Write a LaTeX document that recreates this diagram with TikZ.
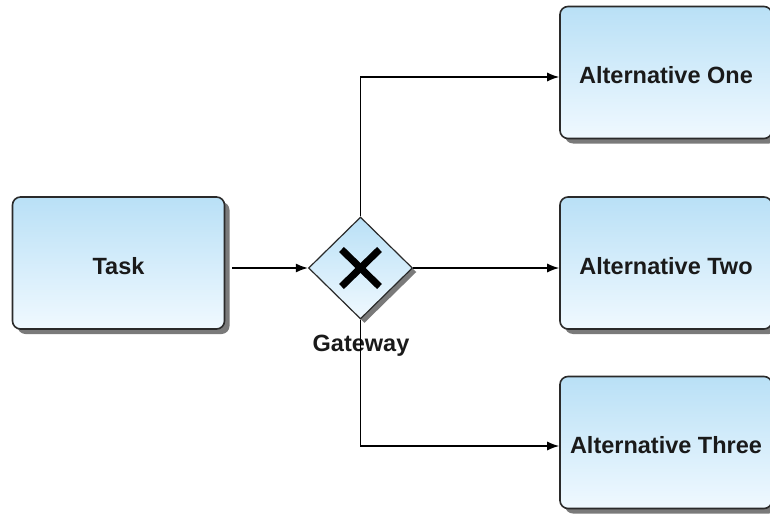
\documentclass[tikz,border=0pt]{standalone}
\usepackage{fontspec}
\setmainfont{Liberation Sans}
\usetikzlibrary{shapes.geometric,shadows,arrows.meta,calc}
\definecolor{boxtop}{HTML}{B9E0F6}
\definecolor{boxbot}{HTML}{F0F9FF}
\definecolor{edgecol}{HTML}{2A2A2A}
\definecolor{shadowcol}{HTML}{7A7A7A}
\definecolor{txtcol}{HTML}{1A1A1A}
\begin{document}
\begin{tikzpicture}[x=1pt,y=-1pt,
  taskbox/.style={draw=edgecol, line width=1.6pt, rounded corners=8pt,
    top color=boxtop, bottom color=boxbot, minimum width=212pt, minimum height=132pt,
    inner sep=0pt, font=\fontsize{23.5}{25}\selectfont\bfseries, text=txtcol,
    text height=22pt, text depth=0pt,
    drop shadow={shadow xshift=5pt, shadow yshift=-5pt, fill=shadowcol, opacity=1}},
  gatebox/.style={diamond, draw=edgecol, line width=1.2pt, top color=boxtop, bottom color=boxbot,
    minimum width=104pt, minimum height=102pt, inner sep=0pt,
    drop shadow={shadow xshift=4pt, shadow yshift=-4pt, fill=shadowcol, opacity=1}},
  flow/.style={draw=black, line width=1.4pt, -{Latex[length=12pt,width=9pt]}},
  lbl/.style={font=\fontsize{23.5}{25}\selectfont\bfseries, text=txtcol, inner sep=0pt}
]
\useasboundingbox[fill=white] (0,0) rectangle (770,516);
\node[taskbox] (T) at (118.5,263) {Task};
\node[taskbox] (A1) at (666,72.5) {Alternative One};
\node[taskbox] (A2) at (666,263) {Alternative Two};
\node[taskbox] (A3) at (666,442.5) {Alternative Three};
\node[gatebox] (G) at (360.5,268) {};
\draw[black, line width=7pt] ($(G.center)+(-19,-18.5)$) -- ($(G.center)+(19,18.5)$);
\draw[black, line width=7pt] ($(G.center)+(-19,18.5)$) -- ($(G.center)+(19,-18.5)$);
\node[lbl] (GL) at (361,346) {Gateway};
\coordinate (b1) at (360.5,77);
\coordinate (b3) at (360.5,446);
\draw[flow, shorten <=7pt] (T.east |- G.west) -- (G.west);
\draw[flow] (G.east) -- (A2.west |- G.east);
\draw[flow] (G.north) -- (b1) -- (b1 -| A1.west);
\draw[flow] (G.south) -- (b3) -- (b3 -| A3.west);
\end{tikzpicture}
\end{document}
